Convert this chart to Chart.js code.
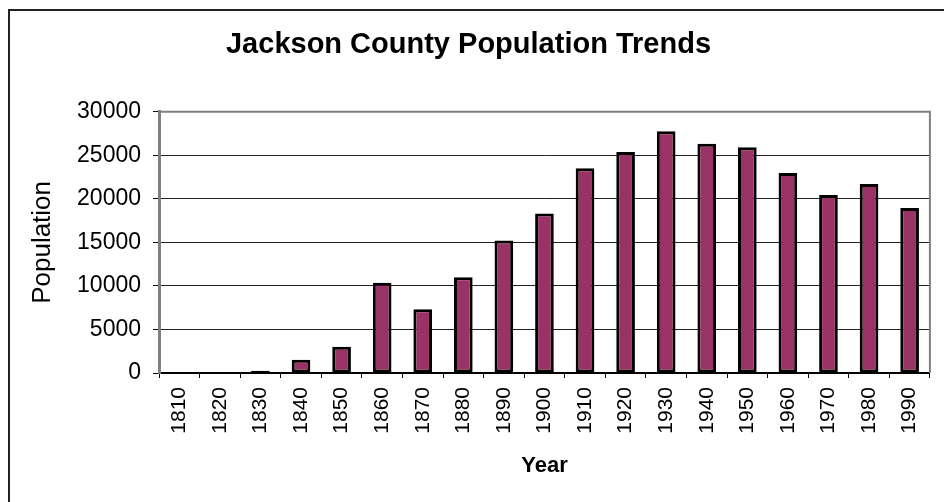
<!DOCTYPE html>
<html>
<head>
<meta charset="utf-8">
<title>Jackson County Population Trends</title>
<script src="https://cdn.jsdelivr.net/npm/chart.js@4"></script>
<style>
    html, body { margin: 0; padding: 0; background: #fff; }
    #wrap { width: 944px; height: 502px; }
</style>
</head>
<body>
<div id="wrap"><canvas id="popChart" width="944" height="502"></canvas></div>
<script>
// census years and county population
const years = ['1810', '1820', '1830', '1840', '1850', '1860', '1870', '1880', '1890', '1900',
               '1910', '1920', '1930', '1940', '1950', '1960', '1970', '1980', '1990'];
const population = [0, 0, 250, 1530, 3020, 10370, 7310, 10990, 15230, 18330,
                    23530, 25370, 27780, 26320, 25940, 22960, 20430, 21700, 18940];
const yMax = 30000;
const yStep = 5000;

const FONT = "'Liberation Sans', Arial, sans-serif";

// outer frame + grey plot-area edges (top / right)
const frame = {
    id: 'frame',
    afterDraw(chart) {
        const ctx = chart.ctx;
        const a = chart.chartArea;
        ctx.save();
        ctx.strokeStyle = '#808080';
        ctx.lineWidth = 2;
        ctx.beginPath();
        ctx.moveTo(a.left, a.top);
        ctx.lineTo(a.right, a.top);
        ctx.lineTo(a.right, a.bottom);
        ctx.stroke();
        ctx.strokeStyle = '#222';
        ctx.lineWidth = 2;
        ctx.beginPath();
        ctx.moveTo(9, chart.height + 2);
        ctx.lineTo(9, 10);
        ctx.lineTo(chart.width + 2, 10);
        ctx.stroke();
        ctx.restore();
    }
};

new Chart(document.getElementById('popChart'), {
    type: 'bar',
    data: {
        labels: years,
        datasets: [{
            label: 'Population',
            data: population,
            backgroundColor: '#993366',
            borderColor: '#000',
            borderWidth: 3,
            borderSkipped: false,
            barPercentage: 0.46,
            categoryPercentage: 1
        }]
    },
    options: {
        responsive: false,
        animation: false,
        layout: { padding: { left: 0, right: 7, top: 0, bottom: 0 } },
        plugins: {
            legend: { display: false },
            tooltip: { enabled: false },
            title: {
                display: true,
                text: 'Jackson County Population Trends',
                color: '#000',
                font: { family: FONT, size: 29, weight: 'bold' },
                padding: { top: 28, bottom: 49 }
            }
        },
        scales: {
            x: {
                grid: { drawOnChartArea: false, tickLength: 5, tickColor: '#000' },
                border: { color: '#000', width: 2 },
                ticks: {
                    color: '#000',
                    font: { family: FONT, size: 21 },
                    minRotation: 90,
                    maxRotation: 90,
                    autoSkip: false,
                    padding: 9
                },
                title: {
                    display: true,
                    text: 'Year',
                    color: '#000',
                    font: { family: FONT, size: 22, weight: 'bold' },
                    padding: { top: 0, bottom: 23 }
                },
                afterFit(scale) { scale.height = 129; }
            },
            y: {
                min: 0,
                max: yMax,
                grid: { color: '#222', lineWidth: 1, tickLength: 6, tickColor: '#000' },
                border: { color: '#808080', width: 3 },
                ticks: {
                    stepSize: yStep,
                    color: '#000',
                    font: { family: FONT, size: 23 },
                    padding: 12,
                    callback: v => String(v)
                },
                title: {
                    display: true,
                    text: 'Population',
                    color: '#000',
                    font: { family: FONT, size: 26 },
                    padding: { top: 27, bottom: 0 }
                },
                afterFit(scale) { scale.width = 159; }
            }
        }
    },
    plugins: [frame]
});
</script>
</body>
</html>
